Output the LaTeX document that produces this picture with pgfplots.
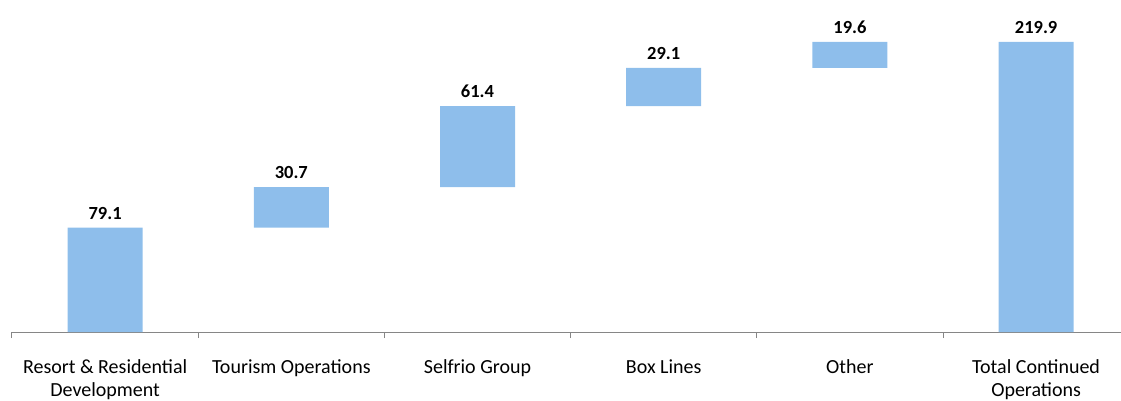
\documentclass[border=0pt]{standalone}
\usepackage{pgfplots}
\pgfplotsset{compat=1.18}
\usepackage{pgfplotstable}
\usepackage{fontspec}
\setmainfont{Carlito}
\definecolor{barblue}{RGB}{142,190,235}
\definecolor{axgray}{RGB}{134,134,134}
\pgfplotstableread{
x base val top
0 0 79.1 79.1
1 79.1 30.7 109.8
2 109.8 61.4 171.2
3 171.2 29.1 200.3
4 200.3 19.6 219.9
5 0 219.9 219.9
}\datatable
\pgfplotsset{common/.style={
  scale only axis,
  width=1109pt, height=332pt,
  xmin=-0.5, xmax=5.456,
  ymin=0, ymax=251.7,
  clip=false,
}}
\begin{document}
\begin{tikzpicture}
\begin{axis}[
  common,
  ybar stacked,
  bar width=75pt,
  axis x line*=bottom,
  hide y axis,
  axis line style={axgray, line width=1pt},
  xtick={0,...,5},
  xticklabels={{Resort \& Residential\\Development},{Tourism Operations},{Selfrio Group},{Box Lines},{Other},{Total Continued\\Operations}},
  major tick length=0pt,
  minor xtick={-0.5,0.5,1.5,2.5,3.5,4.5},
  minor tick length=6pt,
  tick align=outside,
  tick style={axgray, line width=1pt},
  xticklabel style={align=center, font=\fontsize{20}{23.5}\selectfont, text=black, yshift=-24pt},
]
\addplot[draw=none, fill=none, forget plot] table[x=x, y=base] {\datatable};
\addplot[draw=none, fill=barblue] table[x=x, y=val] {\datatable};
\end{axis}
\begin{axis}[common, hide axis]
\addplot[only marks, mark=none,
  nodes near coords={\pgfmathprintnumber[fixed,fixed zerofill,precision=1,assume math mode=true]{\pgfplotspointmeta}},
  point meta=explicit,
  every node near coord/.append style={font=\fontsize{18.5}{22}\selectfont\bfseries, text=black, anchor=south, yshift=5pt}
] table[x=x, y=top, meta=val] {\datatable};
\end{axis}
\pgfresetboundingbox
\path[use as bounding box] (-12pt,-68pt) rectangle (1109pt,332pt);
\end{tikzpicture}
\end{document}
